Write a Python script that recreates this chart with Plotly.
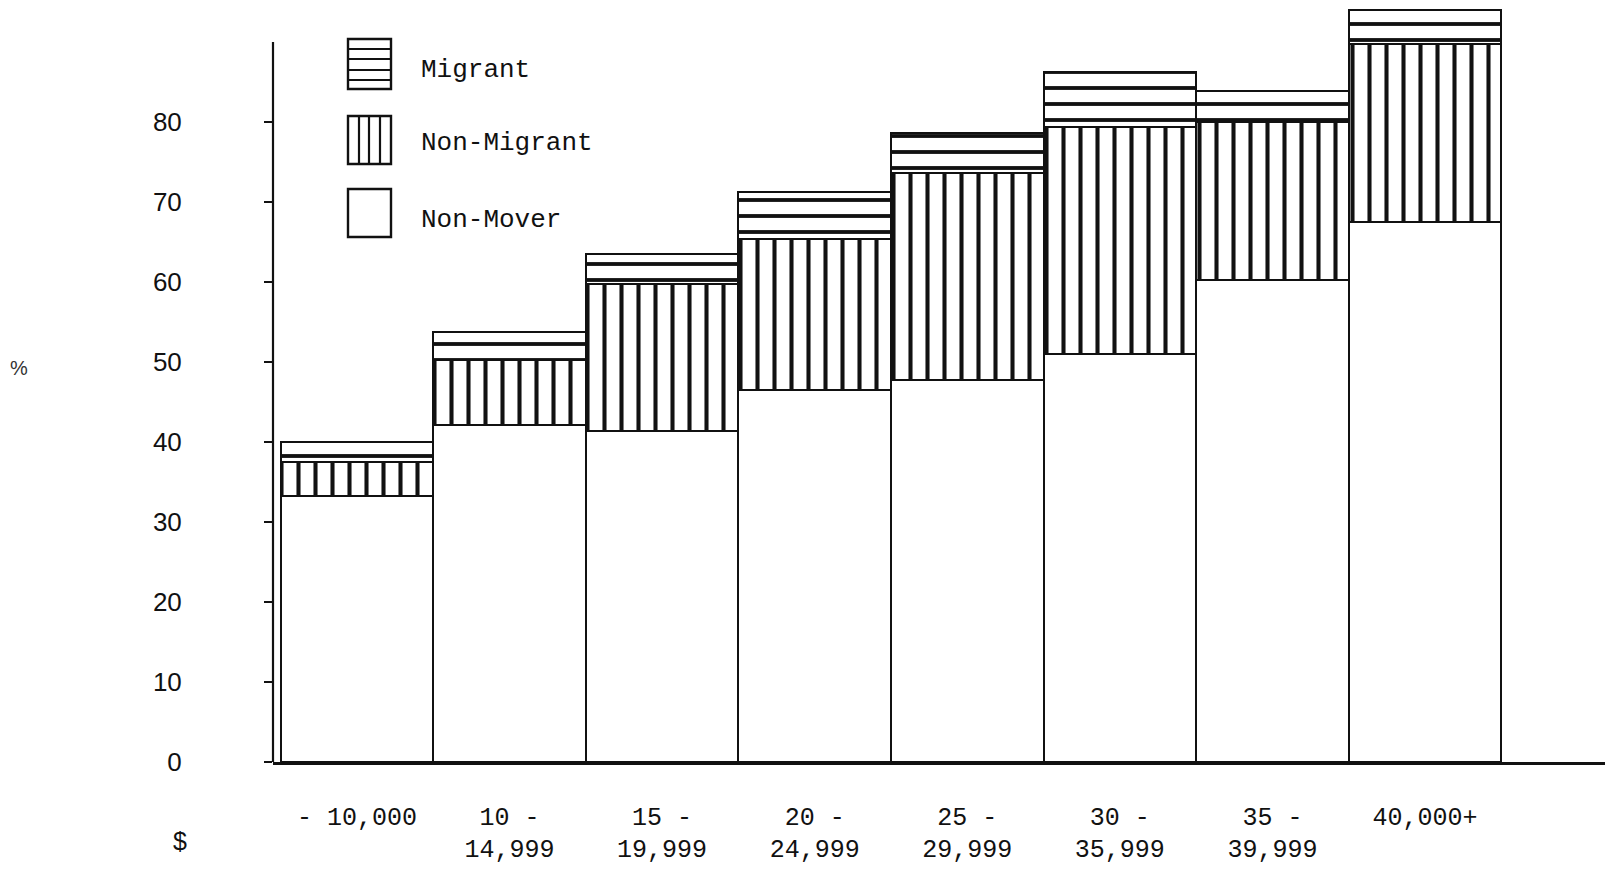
import plotly.graph_objects as go

categories = ["- 10,000", "10 -<br>14,999", "15 -<br>19,999", "20 -<br>24,999",
              "25 -<br>29,999", "30 -<br>35,999", "35 -<br>39,999", "40,000+"]
non_mover = [33.2, 42.1, 41.4, 46.5, 47.8, 51.0, 60.3, 67.5]
non_migrant = [4.3, 8.1, 18.4, 18.9, 25.8, 28.4, 19.7, 22.2]
migrant = [2.5, 3.6, 3.7, 5.8, 5.0, 6.8, 3.9, 4.3]
y_ticks = [0, 10, 20, 30, 40, 50, 60, 70, 80]

first_lines = [c.split("<br>")[0] for c in categories]
second_lines = [c.split("<br>")[1] if "<br>" in c else "" for c in categories]

INK = "#111111"
xs = list(range(len(categories)))

fig = go.Figure()
fig.add_trace(go.Bar(
    x=xs, y=non_mover, name="Non-Mover", width=1,
    marker=dict(color="white", line=dict(color=INK, width=2.5)),
    hoverinfo="y+name"))
fig.add_trace(go.Bar(
    x=xs, y=non_migrant, name="Non-Migrant", width=1,
    marker=dict(color="white", line=dict(color=INK, width=2.5),
                pattern=dict(shape="|", size=17, solidity=0.24,
                             fgcolor=INK, bgcolor="white", fgopacity=1)),
    hoverinfo="y+name"))
fig.add_trace(go.Bar(
    x=xs, y=migrant, name="Migrant", width=1,
    marker=dict(color="white", line=dict(color=INK, width=2.5),
                pattern=dict(shape="-", size=16, solidity=0.24,
                             fgcolor=INK, bgcolor="white", fgopacity=1)),
    hoverinfo="y+name"))
# carrier for the second line of the category labels
fig.add_trace(go.Scatter(x=[], y=[], xaxis="x2", yaxis="y", showlegend=False,
                         hoverinfo="skip"))

# plot area: x 273..1605 px, y 0..762 px
PL, PR, PT, PB = 273, 1605, 0, 762
W, H = 1605, 872
def px(xp):
    return (xp - PL) / (PR - PL)
def py(yp):
    return (PB - yp) / (PB - PT)

shapes = []
shapes.append(dict(type="line", xref="paper", yref="y", x0=0, x1=0, y0=0, y1=90,
                   line=dict(color=INK, width=2.2)))

bx0, bx1 = 348, 391
boxes = [(39, 89), (116, 164), (189, 237)]
for (y0, y1) in boxes:
    shapes.append(dict(type="rect", xref="paper", yref="paper",
                       x0=px(bx0), x1=px(bx1), y0=py(y1), y1=py(y0),
                       line=dict(color=INK, width=2.4), fillcolor="white"))
for yl in [49, 59, 70, 80]:
    shapes.append(dict(type="line", xref="paper", yref="paper",
                       x0=px(bx0), x1=px(bx1), y0=py(yl), y1=py(yl),
                       line=dict(color=INK, width=2.2)))
for xl in [359, 369, 380]:
    shapes.append(dict(type="line", xref="paper", yref="paper",
                       x0=px(xl), x1=px(xl), y0=py(164), y1=py(116),
                       line=dict(color=INK, width=2.2)))

mono = "Liberation Mono, DejaVu Sans Mono, monospace"
sans = "Liberation Sans, Arial, sans-serif"
annotations = []
for label, yc in [("Migrant", 70), ("Non-Migrant", 143), ("Non-Mover", 220)]:
    annotations.append(dict(text=label, xref="paper", yref="paper",
                            x=px(419), y=py(yc), xanchor="left", yanchor="middle",
                            showarrow=False, font=dict(family=mono, size=26, color=INK)))
annotations.append(dict(text="$", xref="paper", yref="paper", x=px(180), y=py(841),
                        xanchor="center", yanchor="middle", showarrow=False,
                        font=dict(family=sans, size=25, color=INK)))
annotations.append(dict(text="%", xref="paper", yref="paper", x=px(19), y=py(368),
                        xanchor="center", yanchor="middle", showarrow=False,
                        font=dict(family=sans, size=20, color="#333")))

xcommon = dict(range=[-0.55, 8.18], tickmode="array", tickvals=xs,
               showgrid=False, zeroline=False, ticks="", automargin=False,
               tickfont=dict(family=mono, size=25, color=INK))

fig.update_layout(
    width=W, height=H,
    margin=dict(l=PL, r=W - PR, t=PT, b=H - PB, autoexpand=False),
    paper_bgcolor="white", plot_bgcolor="white",
    barmode="stack", bargap=0,
    showlegend=False,
    shapes=shapes, annotations=annotations,
    xaxis=dict(**xcommon, ticktext=first_lines, showline=True, linecolor=INK,
               linewidth=3, ticklabelstandoff=30),
    xaxis2=dict(**xcommon, ticktext=second_lines, overlaying="x", anchor="y",
                side="bottom", showline=False, ticklabelstandoff=69),
    yaxis=dict(range=[0, 95.25], tickmode="array", tickvals=y_ticks,
               showline=False, showgrid=False, zeroline=False, automargin=False,
               ticks="outside", ticklen=8, tickwidth=2.2, tickcolor=INK,
               ticklabelstandoff=77,
               tickfont=dict(family=sans, size=26, color=INK)),
)

fig.write_html("out.html", config={"displayModeBar": False},
               post_script="document.body.style.margin='0';document.body.style.overflow='hidden';")
